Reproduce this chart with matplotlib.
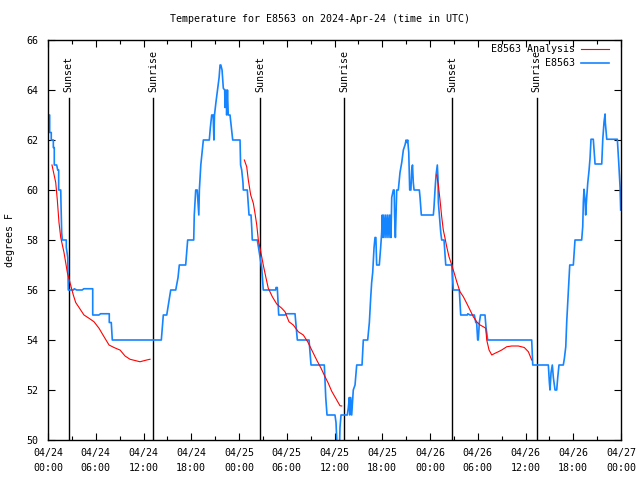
import matplotlib
matplotlib.use("Agg")
import matplotlib.pyplot as plt
from matplotlib.ticker import MultipleLocator

plt.rcParams['font.family'] = ['DejaVu Sans Mono']

title = "Temperature for E8563 on 2024-Apr-24 (time in UTC)"
ylabel = "degrees F"

# hours since 2024-04-24 00:00 UTC
obs_hours = [0.04, 0.21, 0.21, 0.41, 0.41, 0.67, 0.67, 0.79, 0.79, 1.09, 1.22, 1.34, 1.34, 1.60, 1.63, 1.72, 1.80, 2.30,
             2.30, 2.48, 2.55, 3.2, 3.3, 3.6, 4.3, 4.5, 5.62, 5.62, 6.4, 6.6, 7.70, 7.70, 7.95, 8.08, 14.24,
             14.49, 14.92, 15.42, 16.05, 16.34, 16.5, 17.30, 17.55, 18.31, 18.38, 18.56, 18.75, 18.85, 18.95, 19.02,
             19.2, 19.52, 20.27, 20.40, 20.57, 20.75, 20.85, 20.92, 21.1, 21.3, 21.5, 21.62, 21.72, 21.87, 22.03,
             22.2, 22.25, 22.37, 22.45, 22.55, 22.65, 22.87, 23.21, 24.13,
             24.20, 24.34, 24.50, 24.54, 25.04, 25.26, 25.51, 25.60, 25.67, 26.30, 26.45, 26.64, 26.85, 27.05,
             28.6, 28.65, 28.81, 28.99, 29.8, 29.9, 31.04, 31.33, 32.80, 33.05, 34.72, 34.90, 35.06, 36.06,
             36.19, 36.35, 36.5, 36.57, 36.69, 36.82, 37.61, 37.74, 37.86, 37.92, 38.04, 38.16, 38.36, 38.58,
             38.79, 39.46, 39.62, 40.17, 40.38, 40.55, 40.67, 40.80, 40.97, 41.09, 41.20, 41.30, 41.63, 41.80,
             41.93, 42.0, 42.1, 42.2, 42.35, 42.45, 42.6, 42.7, 42.85, 42.95, 43.1, 43.19, 43.39, 43.5, 43.55,
             43.65, 43.75, 43.82, 44.02, 44.23, 44.45, 44.65, 44.86, 45.0, 45.1, 45.2, 45.33, 45.45, 45.6, 45.7,
             45.8, 45.9, 46.0, 46.66, 46.75, 46.91, 48.42,
             48.50, 48.63, 48.76, 48.92, 49.0, 49.05, 49.22, 49.35, 49.47, 49.76, 49.98, 50.73, 50.93, 51.68,
             51.86, 52.69, 52.75, 53.03, 53.57, 53.75, 53.86, 53.99, 54.07, 54.20, 54.35, 54.50, 54.91, 55.04,
             55.25, 60.78, 60.91, 62.87, 63.00, 63.08, 63.21, 63.37, 63.50, 63.71, 63.92, 64.05, 64.21, 64.75,
             64.88, 65.06, 65.18, 65.31, 65.47, 65.56, 66.01, 66.14, 66.22, 67.06, 67.19, 67.27, 67.35, 67.48,
             67.56, 67.69, 67.82, 67.98, 68.11, 68.23, 68.52, 68.74, 69.58, 69.71, 69.87, 70.00, 70.03, 70.21,
             71.54, 71.72, 71.88, 71.96]
obs_temps = [63.0, 63.0, 62.3, 62.3, 62.0, 62.0, 61.7, 61.7, 61.0, 61.0, 60.8, 60.8, 60.0, 60.0, 59.5, 58.3, 58.0, 58.0,
             57.7, 57.3, 56.0, 56.0, 56.05, 56.0, 56.0, 56.05, 56.05, 55.0, 55.0, 55.05, 55.05, 54.7, 54.7, 54.0, 54.0,
             55.0, 55.0, 56.0, 56.0, 56.5, 57.0, 57.0, 58.0, 58.0, 59.0, 60.0, 60.0, 59.5, 59.0, 60.0,
             61.0, 62.0, 62.0, 62.5, 63.0, 63.0, 62.0, 63.0, 63.5, 64.0, 64.5, 65.0, 65.0, 64.8, 64.07,
             64.0, 63.3, 64.0, 63.0, 64.0, 63.0, 63.0, 62.0, 62.0,
             61.0, 60.8, 60.3, 60.0, 60.0, 59.0, 59.0, 58.5, 58.0, 58.0, 57.7, 57.3, 56.9, 56.0,
             56.0, 56.1, 56.1, 55.0, 55.0, 55.05, 55.05, 54.0, 54.0, 53.0, 53.0, 51.7, 51.0, 51.0,
             50.7, 49.5, 49.8, 49.0, 50.5, 51.0, 51.0, 51.3, 51.7, 51.0, 51.7, 51.0, 52.0, 52.2,
             53.0, 53.0, 54.0, 54.0, 54.7, 55.7, 56.3, 56.7, 57.7, 58.1, 58.1, 57.0, 57.0, 57.7,
             58.3, 59.0, 58.1, 59.0, 58.1, 59.0, 58.1, 59.0, 58.1, 59.0, 58.1, 59.7, 60.0, 60.0, 59.0,
             58.1, 59.3, 60.0, 60.0, 60.7, 61.1, 61.6, 61.8, 62.0, 61.9, 62.0, 61.5, 60.0, 60.0, 60.8,
             61.0, 60.3, 60.0, 60.0, 59.7, 59.0, 59.0,
             59.3, 60.0, 60.6, 61.0, 60.5, 59.5, 58.8, 58.3, 58.0, 58.0, 57.0, 57.0, 56.0, 56.0,
             55.0, 55.0, 55.05, 55.0, 55.0, 54.7, 54.7, 54.0, 54.0, 54.7, 55.0, 55.0, 55.0, 54.5,
             54.0, 54.0, 53.0, 53.0, 52.3, 52.0, 52.7, 53.0, 52.5, 52.0, 52.0, 52.5, 53.0, 53.0,
             53.25, 53.73, 54.73, 55.49, 56.47, 57.0, 57.0, 57.6, 58.0, 58.0, 58.53, 59.53, 60.03, 59.6,
             59.0, 59.7, 60.27, 60.77, 61.27, 62.03, 62.03, 61.04, 61.04, 62.03, 62.73, 63.04, 62.7, 62.03,
             62.03, 61.07, 60.13, 59.2]

ana1_hours = [0.50, 0.97, 1.17, 1.38, 1.60, 2.01, 2.43, 2.76, 3.18, 3.48, 3.90, 4.52, 5.15, 5.78, 6.41, 7.04, 7.67,
              8.29, 8.80, 9.05, 9.68, 10.30, 11.56, 12.40, 12.82]
ana1_temps = [61.0, 60.3, 59.6, 58.7, 58.1, 57.5, 56.7, 56.3, 55.8, 55.5, 55.3, 55.0, 54.87, 54.73, 54.47, 54.13, 53.8,
              53.7, 53.63, 53.6, 53.36, 53.23, 53.13, 53.2, 53.23]
ana2_hours = [24.67, 24.97, 25.17, 25.47, 25.80, 26.01, 26.23, 26.43, 26.77, 27.05, 27.36, 27.68, 28.19, 28.74, 29.37,
              29.78, 30.28, 30.82, 31.45, 32.08, 32.63, 33.14, 33.76, 34.31, 34.81, 35.22, 35.65, 36.28, 36.69, 36.91]
ana2_temps = [61.2, 60.93, 60.4, 59.8, 59.47, 59.07, 58.6, 58.0, 57.47, 57.0, 56.53, 56.07, 55.73, 55.44, 55.27,
              55.13, 54.73, 54.6, 54.33, 54.2, 53.93, 53.6, 53.2, 52.87, 52.53, 52.27, 51.95, 51.6, 51.37, 51.36]
ana3_hours = [48.84, 49.05, 49.26, 49.47, 49.67, 49.89, 50.10, 50.39, 50.73, 51.05, 51.36, 51.77, 52.19, 52.61, 53.03,
              53.44, 53.87, 54.29, 54.70, 55.00, 55.13, 55.42, 55.76, 56.17, 56.58, 57.01, 57.64, 58.27, 59.10,
              59.85, 60.36, 60.78]
ana3_temps = [60.6, 60.2, 59.6, 58.93, 58.4, 58.07, 57.73, 57.33, 57.0, 56.67, 56.33, 55.93, 55.73, 55.47, 55.2,
              54.93, 54.73, 54.6, 54.53, 54.47, 54.0, 53.6, 53.4, 53.47, 53.53, 53.6, 53.73, 53.76, 53.76,
              53.7, 53.53, 53.2]

sun_hours = [2.60, 13.24, 26.68, 37.24, 50.81, 61.41]
sun_labels = ["Sunset", "Sunrise", "Sunset", "Sunrise", "Sunset", "Sunrise"]

xtick_hours = [0, 6, 12, 18, 24, 30, 36, 42, 48, 54, 60, 66, 72]
xtick_labels = ["04/24\n00:00", "04/24\n06:00", "04/24\n12:00", "04/24\n18:00", "04/25\n00:00", "04/25\n06:00",
                "04/25\n12:00", "04/25\n18:00", "04/26\n00:00", "04/26\n06:00", "04/26\n12:00", "04/26\n18:00",
                "04/27\n00:00"]
yticks = [50, 52, 54, 56, 58, 60, 62, 64, 66]

blue = '#1584ff'
red = '#ff0000'
fs = 7.2

fig = plt.figure(figsize=(6.4, 4.8), dpi=100)
ax = fig.add_axes([48/640, 40/480, 573/640, 400/480])

for h, lab in zip(sun_hours, sun_labels):
    ax.plot([h, h], [50, 63.68], color='black', lw=1.0, zorder=1)
    ax.text(h, 63.9, lab, rotation=90, ha='center', va='bottom', fontsize=fs)

ax.plot(ana1_hours, ana1_temps, color=red, lw=0.8, zorder=3)
ax.plot(ana2_hours, ana2_temps, color=red, lw=0.8, zorder=3)
ax.plot(ana3_hours, ana3_temps, color=red, lw=0.8, zorder=3)
ax.plot(obs_hours, obs_temps, color=blue, lw=1.2, zorder=2)

ax.set_xlim(0, 72)
ax.set_ylim(50, 66)
ax.set_xticks(xtick_hours)
ax.set_xticklabels(xtick_labels, fontsize=fs, linespacing=1.6)
ax.xaxis.set_minor_locator(MultipleLocator(3))
ax.set_yticks(yticks)
ax.set_yticklabels([str(v) for v in yticks], fontsize=fs)
ax.tick_params(axis='both', which='major', direction='in', length=5, width=0.8, top=True, right=True, pad=6)
ax.tick_params(axis='x', which='minor', direction='in', length=3, width=0.8, top=True)
ax.tick_params(axis='y', which='major', pad=7)
for s in ax.spines.values():
    s.set_linewidth(1.0)

fig.text(0.5, 1 - 19/480, title, ha='center', va='center', fontsize=fs)
fig.text(10/640, 0.5, ylabel, rotation=90, ha='center', va='center', fontsize=fs)

# legend (gnuplot style: text right, sample on right)
ax.text(0.9197, 0.9767, "E8563 Analysis", transform=ax.transAxes, ha='right', va='center', fontsize=fs)
ax.text(0.9197, 0.9432, "E8563", transform=ax.transAxes, ha='right', va='center', fontsize=fs)
ax.plot([0.930, 0.9791], [0.9767, 0.9767], transform=ax.transAxes, color=red, lw=0.8, clip_on=False)
ax.plot([0.930, 0.9791], [0.9432, 0.9432], transform=ax.transAxes, color=blue, lw=1.2, clip_on=False)

fig.savefig("out.png", dpi=100)
